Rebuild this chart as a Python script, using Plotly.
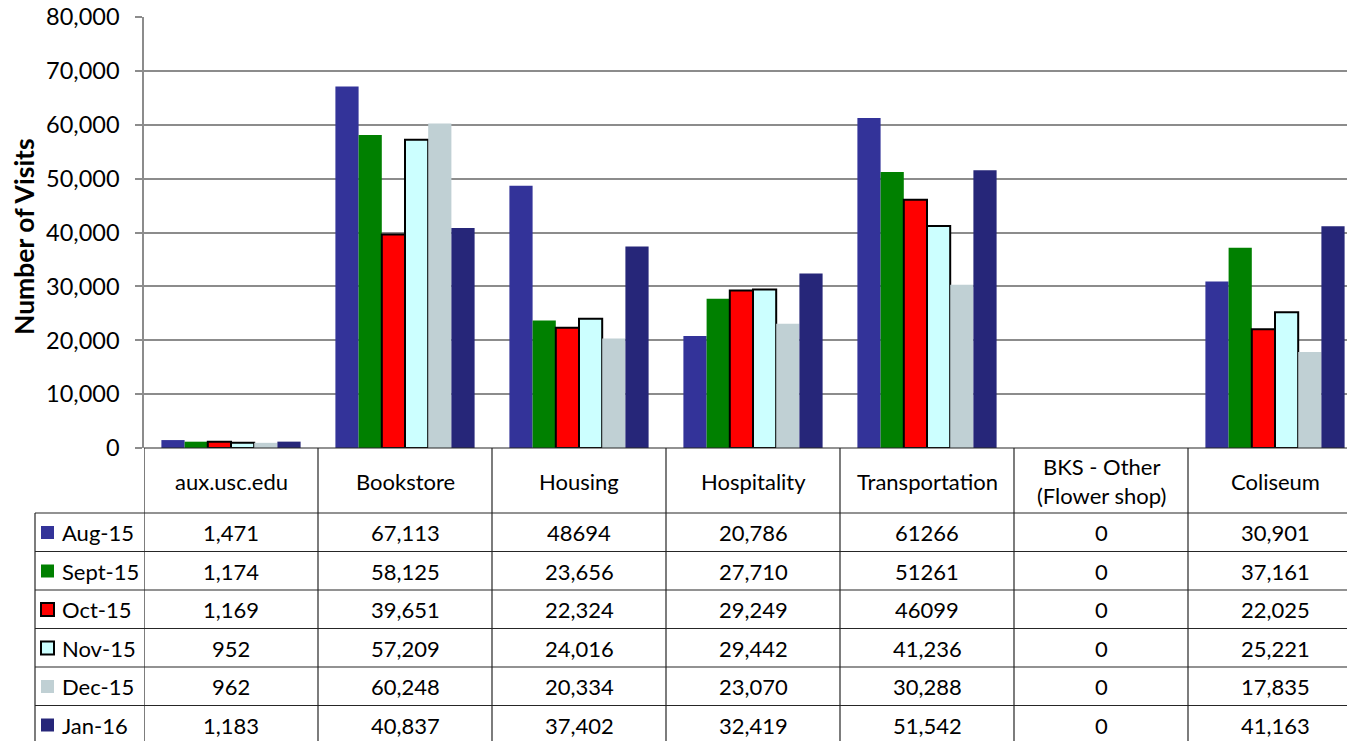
import plotly.graph_objects as go

categories = ["aux.usc.edu", "Bookstore", "Housing", "Hospitality", "Transportation",
              "BKS - Other<br>(Flower shop)", "Coliseum"]
series_names = ["Aug-15", "Sept-15", "Oct-15", "Nov-15", "Dec-15", "Jan-16"]

aug_15 = [1471, 67113, 48694, 20786, 61266, 0, 30901]
sept_15 = [1174, 58125, 23656, 27710, 51261, 0, 37161]
oct_15 = [1169, 39651, 22324, 29249, 46099, 0, 22025]
nov_15 = [952, 57209, 24016, 29442, 41236, 0, 25221]
dec_15 = [962, 60248, 20334, 23070, 30288, 0, 17835]
jan_16 = [1183, 40837, 37402, 32419, 51542, 0, 41163]
series_values = [aug_15, sept_15, oct_15, nov_15, dec_15, jan_16]

# cells shown without thousands separator in the source table (series index, category index)
plain_cells = {(0, 2), (0, 4), (1, 4), (2, 4)}

y_ticks = [0, 10000, 20000, 30000, 40000, 50000, 60000, 70000, 80000]
y_max = 80000

colors = ["#333399", "#008000", "#FF0000", "#CCFFFF", "#C0D0D4", "#262679"]
outline = [0, 0, 2, 2, 0, 0]

FONT = "Lato, 'Open Sans', sans-serif"
OFF = 8                      # page body margin offset
PAGE_W, PAGE_H = 1355, 741
W, H = PAGE_W - OFF, PAGE_H - OFF
L_PAGE, T_PAGE, B_PAGE = 144, 17, 448
PH = B_PAGE - T_PAGE
PW = PAGE_W - L_PAGE
CAT_W = 174.0

def py(p):
    return (B_PAGE - p) / PH

def px(p):
    return (p - L_PAGE) / PW

fig = go.Figure()
for name, vals, c, lw in zip(series_names, series_values, colors, outline):
    fig.add_trace(go.Bar(
        x=list(range(len(categories))), y=vals, name=name,
        marker=dict(color=c, line=dict(color="black",
                                       width=[lw if v > 0 else 0 for v in vals])),
        showlegend=False,
    ))

n = len(categories)

shapes = []
line_col = "#262626"
for i in range(n + 1):
    shapes.append(dict(type="line", xref="x", yref="paper", x0=i - 0.5, x1=i - 0.5,
                       y0=py(B_PAGE), y1=py(760), line=dict(color=line_col, width=1.2)))
shapes.append(dict(type="line", xref="paper", yref="paper", x0=px(35), x1=px(35),
                   y0=py(513), y1=py(760), line=dict(color=line_col, width=1.2)))
shapes.append(dict(type="line", xref="paper", yref="paper", x0=0, x1=1.01,
                   y0=0, y1=0, line=dict(color=line_col, width=1.2)))
row_tops = [513, 551.5, 590, 628.5, 667, 705.5]
for rt in row_tops:
    shapes.append(dict(type="line", xref="paper", yref="paper", x0=px(35), x1=1.01,
                       y0=py(rt), y1=py(rt), line=dict(color=line_col, width=1.2)))

annotations = []
for i, cat in enumerate(categories):
    annotations.append(dict(x=i, y=py(481), xref="x", yref="paper", text=cat,
                            showarrow=False, font=dict(size=22, color="black", family=FONT),
                            xanchor="center", yanchor="middle"))
for s, (name, vals) in enumerate(zip(series_names, series_values)):
    yc = row_tops[s] + 19.5
    shapes.append(dict(type="rect", xref="paper", yref="paper",
                       x0=px(41), x1=px(54), y0=py(yc + 6.5), y1=py(yc - 6.5),
                       fillcolor=colors[s],
                       line=dict(color="black", width=outline[s]) if outline[s] else dict(width=0)))
    annotations.append(dict(x=px(60), y=py(yc), xref="paper", yref="paper", text=name,
                            showarrow=False, font=dict(size=22, color="black", family=FONT),
                            xanchor="left", yanchor="middle"))
    for i, v in enumerate(vals):
        txt = str(v) if (s, i) in plain_cells else f"{v:,}"
        annotations.append(dict(x=i, y=py(yc), xref="x", yref="paper", text=txt,
                                showarrow=False, font=dict(size=22, color="black", family=FONT),
                                xanchor="center", yanchor="middle"))

annotations.append(dict(x=px(24), y=py(237), xref="paper", yref="paper",
                        text="<b>Number of Visits</b>", textangle=-90, showarrow=False,
                        font=dict(size=26.5, color="black", family=FONT),
                        xanchor="center", yanchor="middle"))

fig.update_layout(
    width=W, height=H,
    margin=dict(l=L_PAGE - OFF, r=0, t=T_PAGE - OFF, b=H - (B_PAGE - OFF), pad=0,
                autoexpand=False),
    paper_bgcolor="white", plot_bgcolor="white",
    barmode="group", bargap=0.2, bargroupgap=0,
    font=dict(family=FONT, color="black"),
    xaxis=dict(range=[-0.5, -0.5 + (W - (L_PAGE - OFF)) / CAT_W], showticklabels=False,
               showgrid=False, zeroline=False, showline=False, ticks="",
               automargin=False),
    yaxis=dict(range=[0, y_max * 1.0002], tickvals=y_ticks,
               ticktext=[f"{t:,}" for t in y_ticks],
               tickfont=dict(size=23.5, color="black", family=FONT),
               ticklabelstandoff=11, ticklabeloverflow="allow", automargin=False,
               showgrid=True, gridcolor="#8c8c8c", gridwidth=1.5,
               showline=True, linecolor="#8c8c8c", linewidth=1.5,
               ticks="outside", ticklen=7, tickcolor="#8c8c8c", tickwidth=1.5,
               zeroline=False),
    shapes=shapes,
    annotations=annotations,
)

fig.write_html("out.html")
